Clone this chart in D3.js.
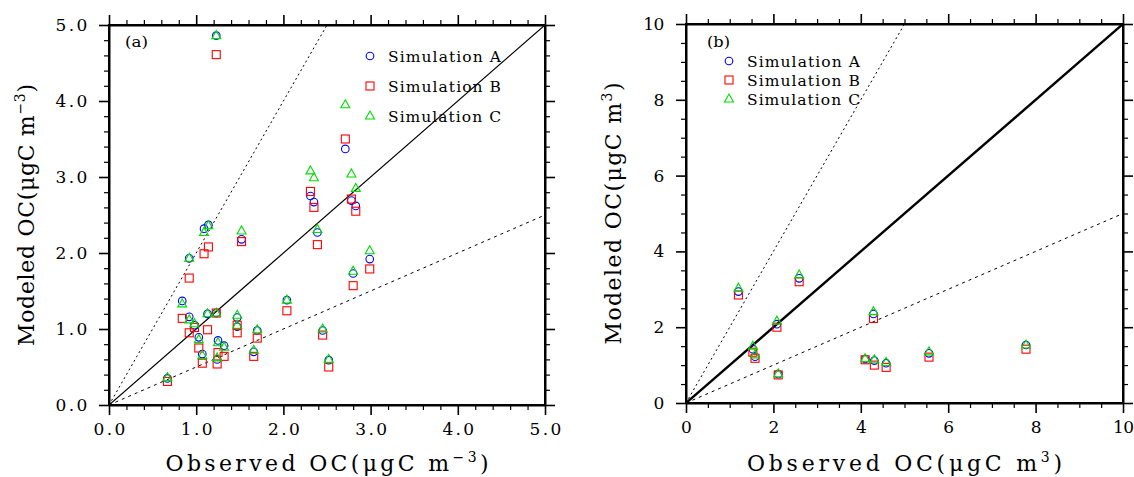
<!DOCTYPE html>
<html>
<head>
<meta charset="utf-8">
<script src="https://cdn.jsdelivr.net/npm/d3@7"></script>
<style>
  html, body { margin: 0; padding: 0; background: #fff; }
  svg text { font-family: "DejaVu Serif", "Liberation Serif", serif; fill: #000; }
</style>
</head>
<body>
<svg id="chart" width="1134" height="477"></svg>
<script>
// ---- Panel (a): observed vs modeled OC ----
const obsA  = [0.67, 0.84, 0.92, 0.92, 0.98, 1.03, 1.07, 1.09, 1.13, 1.14, 1.23, 1.23, 1.24, 1.25, 1.32, 1.47, 1.47, 1.52, 1.66, 1.70, 2.04, 2.31, 2.35, 2.39, 2.45, 2.52, 2.71, 2.78, 2.80, 2.83, 2.99];
const simA_a = [0.35, 1.37, 1.93, 1.16, 1.05, 0.89, 0.67, 2.32, 1.20, 2.37, 1.21, 4.86, 0.60, 0.85, 0.78, 1.15, 1.03, 2.18, 0.70, 0.98, 1.38, 2.75, 2.67, 2.27, 0.98, 0.59, 3.37, 2.69, 1.73, 2.62, 1.92];
const simB_a = [0.31, 1.14, 1.67, 0.95, 1.02, 0.75, 0.55, 1.99, 0.99, 2.08, 1.21, 4.61, 0.54, 0.69, 0.64, 1.05, 0.95, 2.15, 0.64, 0.88, 1.24, 2.81, 2.60, 2.11, 0.92, 0.50, 3.50, 2.71, 1.57, 2.55, 1.79];
const simC_a = [0.36, 1.33, 1.93, 1.12, 1.07, 0.86, 0.65, 2.27, 1.20, 2.36, 1.21, 4.86, 0.62, 0.82, 0.76, 1.18, 1.05, 2.29, 0.72, 0.99, 1.38, 3.08, 2.99, 2.31, 1.00, 0.60, 3.95, 3.04, 1.76, 2.85, 2.03];

// ---- Panel (b) ----
const obsB   = [1.20, 1.53, 1.58, 2.08, 2.11, 2.59, 4.10, 4.29, 4.31, 4.58, 5.56, 7.78];
const simA_b = [2.94, 1.42, 1.22, 2.08, 0.76, 3.29, 1.16, 2.35, 1.12, 1.05, 1.31, 1.53];
const simB_b = [2.85, 1.34, 1.18, 2.00, 0.74, 3.20, 1.14, 2.23, 1.00, 0.94, 1.21, 1.42];
const simC_b = [3.03, 1.50, 1.27, 2.16, 0.77, 3.38, 1.17, 2.41, 1.14, 1.07, 1.35, 1.53];

const seriesNames = ["Simulation A", "Simulation B", "Simulation C"];
const seriesColors = ["#0000ff", "#ff0000", "#00dd00"];
const seriesShapes = ["circle", "square", "triangle"];

const ticksA = [0, 1, 2, 3, 4, 5];
const ticksB = [0, 2, 4, 6, 8, 10];

const svg = d3.select("#chart");

function marker(g, shape, x, y, color) {
  if (shape === "circle") {
    g.append("circle").attr("cx", x).attr("cy", y).attr("r", 3.8)
      .attr("fill", "none").attr("stroke", color).attr("stroke-width", 1.1);
  } else if (shape === "square") {
    g.append("rect").attr("x", x - 4).attr("y", y - 4).attr("width", 8).attr("height", 8)
      .attr("fill", "none").attr("stroke", color).attr("stroke-width", 1.1);
  } else {
    g.append("path").attr("d", `M${x},${y - 5}L${x + 4.5},${y + 3}L${x - 4.5},${y + 3}Z`)
      .attr("fill", "none").attr("stroke", color).attr("stroke-width", 1.1);
  }
}

function panel(cfg) {
  const x = d3.scaleLinear().domain([0, cfg.max]).range([cfg.left, cfg.right]);
  const y = d3.scaleLinear().domain([0, cfg.max]).range([cfg.bottom, cfg.top]);
  const g = svg.append("g");
  const minor = d3.range(0, cfg.max + 1e-9, cfg.minorStep).filter(v => !cfg.ticks.some(t => Math.abs(t - v) < 1e-9));

  // clip for reference lines
  const clipId = "clip-" + cfg.id;
  svg.append("clipPath").attr("id", clipId).append("rect")
    .attr("x", cfg.left).attr("y", cfg.top).attr("width", cfg.right - cfg.left).attr("height", cfg.bottom - cfg.top);

  const lines = g.append("g").attr("clip-path", `url(#${clipId})`);
  // 1:1 line
  lines.append("line").attr("x1", x(0)).attr("y1", y(0)).attr("x2", x(cfg.max)).attr("y2", y(cfg.max))
    .attr("stroke", "#000").attr("stroke-width", cfg.oneToOneWidth);
  // 2:1 line
  lines.append("line").attr("x1", x(0)).attr("y1", y(0)).attr("x2", x(cfg.max / 2)).attr("y2", y(cfg.max))
    .attr("stroke", "#000").attr("stroke-width", 1).attr("stroke-dasharray", "2,3");
  // 1:2 line
  lines.append("line").attr("x1", x(0)).attr("y1", y(0)).attr("x2", x(cfg.max)).attr("y2", y(cfg.max / 2))
    .attr("stroke", "#000").attr("stroke-width", 1).attr("stroke-dasharray", "3,4");

  // axes: majors with labels, minors shorter, on all four sides
  const fmt = cfg.fmt;
  const mk = (axisFn, scale, tr, labels) => {
    const major = axisFn(scale).tickValues(cfg.ticks).tickSize(10).tickSizeOuter(0)
      .tickFormat(labels ? fmt : "").tickPadding(4);
    const ga = g.append("g").attr("transform", tr).call(major);
    ga.select(".domain").attr("stroke-width", 2);
    ga.selectAll(".tick line").attr("stroke-width", 1.6);
    ga.selectAll(".tick text").attr("font-size", 17)
      .attr("font-family", "DejaVu Serif")
      .attr("textLength", function () { return this.textContent.length * 10.6; })
      .attr("lengthAdjust", "spacing");
    const mn = axisFn(scale).tickValues(minor).tickSize(5).tickSizeOuter(0).tickFormat("");
    const gm = g.append("g").attr("transform", tr).call(mn);
    gm.select(".domain").remove();
    gm.selectAll(".tick line").attr("stroke-width", 1.2);
    return ga;
  };
  const gb = mk(d3.axisBottom, x, `translate(0,${cfg.bottom})`, true);
  gb.selectAll(".tick text").attr("dy", "0.95em");
  const gl = mk(d3.axisLeft, y, `translate(${cfg.left},0)`, true);
  gl.selectAll(".tick text").attr("dx", "-0.45em");
  mk(d3.axisTop, x, `translate(0,${cfg.top})`, false);
  mk(d3.axisRight, y, `translate(${cfg.right},0)`, false);

  // data markers
  const pts = g.append("g");
  cfg.series.forEach((vals, si) => {
    vals.forEach((v, i) => marker(pts, seriesShapes[si], x(cfg.obs[i]), y(v), seriesColors[si]));
  });

  // panel tag
  g.append("text").attr("x", cfg.tag[0]).attr("y", cfg.tag[1]).attr("font-size", 15.5)
    .attr("textLength", 23).attr("lengthAdjust", "spacingAndGlyphs").text(cfg.tagText);

  // legend
  seriesNames.forEach((name, si) => {
    const ly = cfg.legend.y + si * cfg.legend.dy;
    marker(g, seriesShapes[si], cfg.legend.x, ly, seriesColors[si]);
    g.append("text").attr("x", cfg.legend.x + 18).attr("y", ly + 5.5).attr("font-size", 15.5)
      .attr("textLength", 113).attr("lengthAdjust", "spacing").text(name);
  });

  // axis titles
  const xt = g.append("text").attr("x", (cfg.left + cfg.right) / 2 + cfg.xTitleDx).attr("y", 471)
    .attr("text-anchor", "middle").attr("font-size", 22)
    .attr("textLength", cfg.xTitleLen).attr("lengthAdjust", "spacing");
  xt.append("tspan").text("Observed OC(μgC m");
  xt.append("tspan").attr("dy", -9).attr("font-size", 14).text(cfg.unitSup);
  xt.append("tspan").attr("dy", 9).text(")");

  const cy = (cfg.top + cfg.bottom) / 2;
  const yt = g.append("text").attr("transform", `translate(${cfg.yTitleX},${cy}) rotate(-90)`)
    .attr("text-anchor", "middle").attr("font-size", 22)
    .attr("textLength", cfg.yTitleLen).attr("lengthAdjust", "spacing");
  yt.append("tspan").text("Modeled OC(μgC m");
  yt.append("tspan").attr("dy", -9).attr("font-size", 14).text(cfg.unitSup);
  yt.append("tspan").attr("dy", 9).text(")");

  // frame on top
  g.append("rect").attr("x", cfg.left).attr("y", cfg.top).attr("width", cfg.right - cfg.left)
    .attr("height", cfg.bottom - cfg.top).attr("fill", "none").attr("stroke", "#000").attr("stroke-width", 2);
}

panel({
  id: "a", max: 5, left: 109, right: 545, top: 25, bottom: 405,
  ticks: ticksA, minorStep: 0.2, fmt: d3.format(".1f"),
  obs: obsA, series: [simA_a, simB_a, simC_a], oneToOneWidth: 1.2,
  tag: [125, 47], tagText: "(a)",
  legend: { x: 370, y: 56, dy: 30 },
  unitSup: "−3", xTitleDx: 0, xTitleLen: 323, yTitleX: 34, yTitleLen: 262
});

panel({
  id: "b", max: 10, left: 686, right: 1123, top: 24, bottom: 403,
  ticks: ticksB, minorStep: 0.5, fmt: d3.format("d"),
  obs: obsB, series: [simA_b, simB_b, simC_b], oneToOneWidth: 2.4,
  tag: [707, 47], tagText: "(b)",
  legend: { x: 729, y: 61, dy: 19 },
  unitSup: "3", xTitleDx: 0, xTitleLen: 315, yTitleX: 621, yTitleLen: 262
});
</script>
</body>
</html>
